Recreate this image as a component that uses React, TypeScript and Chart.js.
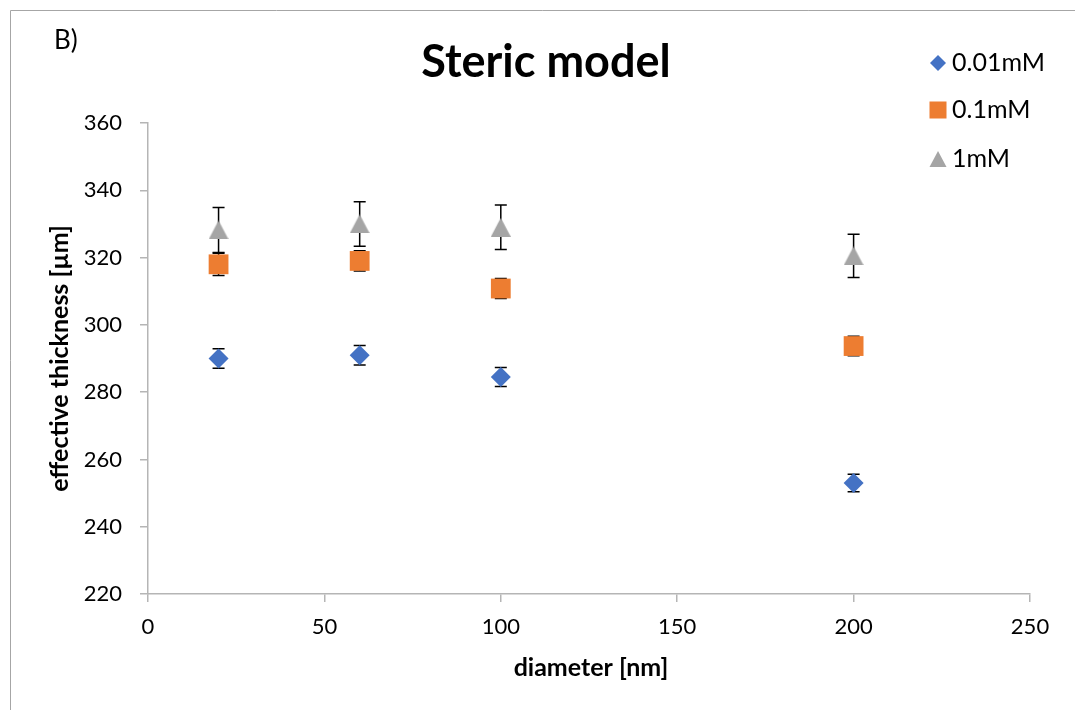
import React, { useEffect, useRef } from "react";
import { Chart, registerables } from "chart.js";

Chart.register(...registerables);

const diameters = [20, 60, 100, 200];
const seriesLabels = ["0.01mM", "0.1mM", "1mM"];
const thick001 = [290, 291, 284.5, 253];
const err001 = [2.9, 2.9, 2.8, 2.6];
const thick01 = [318, 319, 310.8, 293.7];
const err01 = [3.3, 3.0, 3.0, 2.9];
const thick1 = [328.2, 330, 329, 320.5];
const err1 = [6.7, 6.6, 6.6, 6.4];
const xTickValues = [0, 50, 100, 150, 200, 250];
const yTickValues = [220, 240, 260, 280, 300, 320, 340, 360];

const chartTitle = "Steric model";
const panelLabel = "B)";
const xTitle = "diameter [nm]";
const yTitle = "effective thickness [µm]";

const BLUE = "#4472C4";
const ORANGE = "#ED7D31";
const GRAY = "#A5A5A5";
const AXIS = "#b5b5b5";
const FONT = "Lato, 'Open Sans', sans-serif";

function makeTriangle(w: number, h: number, color: string): HTMLCanvasElement {
  const c = document.createElement("canvas");
  c.width = w;
  c.height = h;
  const ctx = c.getContext("2d")!;
  ctx.fillStyle = color;
  ctx.beginPath();
  ctx.moveTo(w / 2, 0);
  ctx.lineTo(w, h);
  ctx.lineTo(0, h);
  ctx.closePath();
  ctx.fill();
  return c;
}

export default function App() {
  const ref = useRef<HTMLCanvasElement | null>(null);

  useEffect(() => {
    if (!ref.current) return;
    const tri = makeTriangle(20, 19, GRAY);
    const errs = [err001, err01, err1];
    const vals = [thick001, thick01, thick1];

    const errorBars = {
      id: "errorBars",
      beforeDatasetsDraw(chart: any) {
        const { ctx, scales } = chart;
        const xs = scales.x;
        const ys = scales.y;
        ctx.save();
        ctx.strokeStyle = "#000";
        ctx.lineWidth = 1.5;
        for (let s = 0; s < vals.length; s++) {
          for (let j = 0; j < diameters.length; j++) {
            const x = xs.getPixelForValue(diameters[j]);
            const yt = ys.getPixelForValue(vals[s][j] + errs[s][j]);
            const yb = ys.getPixelForValue(vals[s][j] - errs[s][j]);
            ctx.beginPath();
            ctx.moveTo(x, yt);
            ctx.lineTo(x, yb);
            ctx.moveTo(x - 6, yt);
            ctx.lineTo(x + 6, yt);
            ctx.moveTo(x - 6, yb);
            ctx.lineTo(x + 6, yb);
            ctx.stroke();
          }
        }
        ctx.restore();
      },
    };

    const decorations = {
      id: "decorations",
      afterDraw(chart: any) {
        const { ctx, chartArea } = chart;
        ctx.save();
        // outer border
        ctx.strokeStyle = "#a6a6a6";
        ctx.lineWidth = 1;
        ctx.beginPath();
        ctx.moveTo(10.5, 710);
        ctx.lineTo(10.5, 10.5);
        ctx.lineTo(1075, 10.5);
        ctx.stroke();

        ctx.fillStyle = "#000";
        // panel label
        ctx.font = `26px ${FONT}`;
        ctx.textAlign = "left";
        ctx.textBaseline = "middle";
        ctx.fillText(panelLabel, 54, 41);

        // title
        ctx.font = `bold 45px ${FONT}`;
        ctx.textAlign = "center";
        ctx.textBaseline = "alphabetic";
        ctx.fillText(chartTitle, 546, 77);

        // axis titles
        ctx.font = `bold 25px ${FONT}`;
        ctx.textBaseline = "middle";
        ctx.fillText(xTitle, (chartArea.left + chartArea.right) / 2 + 2, 668);
        ctx.save();
        ctx.translate(60, (chartArea.top + chartArea.bottom) / 2);
        ctx.rotate(-Math.PI / 2);
        ctx.fillText(yTitle, 0, 0);
        ctx.restore();

        // legend
        const lx = 938;
        const rows = [63, 110, 159];
        ctx.fillStyle = BLUE;
        ctx.beginPath();
        ctx.moveTo(lx, rows[0] - 8);
        ctx.lineTo(lx + 8, rows[0]);
        ctx.lineTo(lx, rows[0] + 8);
        ctx.lineTo(lx - 8, rows[0]);
        ctx.closePath();
        ctx.fill();
        ctx.fillStyle = ORANGE;
        ctx.fillRect(lx - 8.5, rows[1] - 8.5, 17, 17);
        ctx.fillStyle = GRAY;
        ctx.beginPath();
        ctx.moveTo(lx, rows[2] - 8);
        ctx.lineTo(lx + 8.5, rows[2] + 8);
        ctx.lineTo(lx - 8.5, rows[2] + 8);
        ctx.closePath();
        ctx.fill();
        ctx.fillStyle = "#000";
        ctx.font = `25px ${FONT}`;
        ctx.textAlign = "left";
        ctx.textBaseline = "middle";
        for (let i = 0; i < seriesLabels.length; i++) {
          ctx.fillText(seriesLabels[i], 952, rows[i]);
        }
        ctx.restore();
      },
    };

    const mk = (arr: number[]) => diameters.map((d, i) => ({ x: d, y: arr[i] }));

    const chart = new Chart(ref.current, {
      type: "scatter",
      data: {
        datasets: [
          {
            label: seriesLabels[0],
            data: mk(thick001),
            pointStyle: "rectRot",
            pointRadius: 10,
            backgroundColor: BLUE,
            borderColor: BLUE,
            borderWidth: 0,
          },
          {
            label: seriesLabels[1],
            data: mk(thick01),
            pointStyle: "rect",
            pointRadius: 14,
            backgroundColor: ORANGE,
            borderColor: ORANGE,
            borderWidth: 0,
          },
          {
            label: seriesLabels[2],
            data: mk(thick1),
            pointStyle: tri as any,
            pointRadius: 10,
            backgroundColor: GRAY,
            borderColor: GRAY,
            borderWidth: 0,
          },
        ],
      },
      options: {
        animation: false,
        responsive: false,
        devicePixelRatio: 1,
        layout: { padding: { top: 123, right: 45, left: 0, bottom: 0 } },
        plugins: {
          legend: { display: false },
          title: { display: false },
          tooltip: { enabled: false },
        },
        scales: {
          x: {
            type: "linear",
            min: 0,
            max: 250,
            afterFit: (s: any) => {
              s.height = 116;
            },
            afterBuildTicks: (s: any) => {
              s.ticks = xTickValues.map((v) => ({ value: v }));
            },
            grid: {
              drawOnChartArea: false,
              drawTicks: true,
              tickLength: 8,
              color: AXIS,
              lineWidth: 1.5,
            },
            border: { display: true, color: AXIS, width: 1.5 },
            ticks: {
              padding: 12,
              color: "#000",
              font: { family: FONT, size: 22 },
              maxRotation: 0,
            },
          },
          y: {
            type: "linear",
            min: 220,
            max: 360,
            afterFit: (s: any) => {
              s.width = 148;
            },
            afterBuildTicks: (s: any) => {
              s.ticks = yTickValues.map((v) => ({ value: v }));
            },
            grid: {
              drawOnChartArea: false,
              drawTicks: true,
              tickLength: 8,
              color: AXIS,
              lineWidth: 1.5,
            },
            border: { display: true, color: AXIS, width: 1.5 },
            ticks: {
              padding: 18,
              color: "#000",
              font: { family: FONT, size: 22 },
            },
          },
        },
      },
      plugins: [errorBars, decorations],
    });
    return () => chart.destroy();
  }, []);

  return (
    <div style={{ position: "absolute", left: 0, top: 0, width: 1075, height: 710, background: "#fff" }}>
      <canvas ref={ref} width={1075} height={710} style={{ display: "block" }} />
    </div>
  );
}
